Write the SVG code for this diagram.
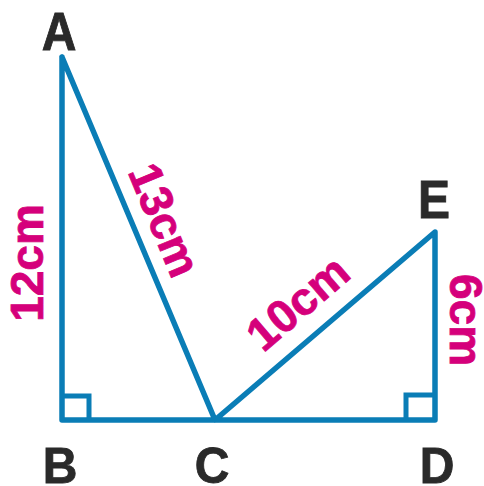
<svg xmlns="http://www.w3.org/2000/svg" width="484" height="486" viewBox="0 0 484 486">
<style>
.ln{fill:none;stroke:#0a7db6;stroke-width:5.5;stroke-linejoin:round;stroke-linecap:round}
.sq{fill:none;stroke:#0a7db6;stroke-width:5;stroke-linejoin:miter}
.pt{font-family:"Liberation Sans",Arial,sans-serif;font-weight:bold;font-size:48px;fill:#2a2a2a;stroke:#2a2a2a;stroke-width:0.8;text-anchor:middle}
.lb{font-family:"Liberation Sans",Arial,sans-serif;font-weight:bold;font-size:46px;fill:#d5007b;stroke:#d5007b;stroke-width:0.8;text-anchor:middle}
</style>
<rect width="484" height="486" fill="#fff"/>
<g id="connectors">
<path class="ln" d="M62,57 L62,420 L435,420 L435,232 L215,420 L62,57"/>
<path class="sq" d="M62,396 L89,396 L89,420"/>
<path class="sq" d="M435,395 L406,395 L406,420"/>
</g>
<g id="A"><text class="pt" transform="translate(59,50) scale(1,1.1)">A</text></g>
<g id="B"><text class="pt" transform="translate(60,483) scale(1,1.05)">B</text></g>
<g id="C"><text class="pt" transform="translate(212,483) scale(1,1.05)">C</text></g>
<g id="D"><text class="pt" transform="translate(437,483) scale(1,1.05)">D</text></g>
<g id="E"><text class="pt" transform="translate(434,218) scale(1,1.1)">E</text></g>
<g id="lab12"><text class="lb" transform="translate(43,263) rotate(-90)">12cm</text></g>
<g id="lab13"><text class="lb" transform="translate(150,226) rotate(67.5)">13cm</text></g>
<g id="lab10"><text class="lb" transform="translate(308,315) rotate(-40.5)">10cm</text></g>
<g id="lab6"><text class="lb" transform="translate(450,320) rotate(90)">6cm</text></g>
</svg>
